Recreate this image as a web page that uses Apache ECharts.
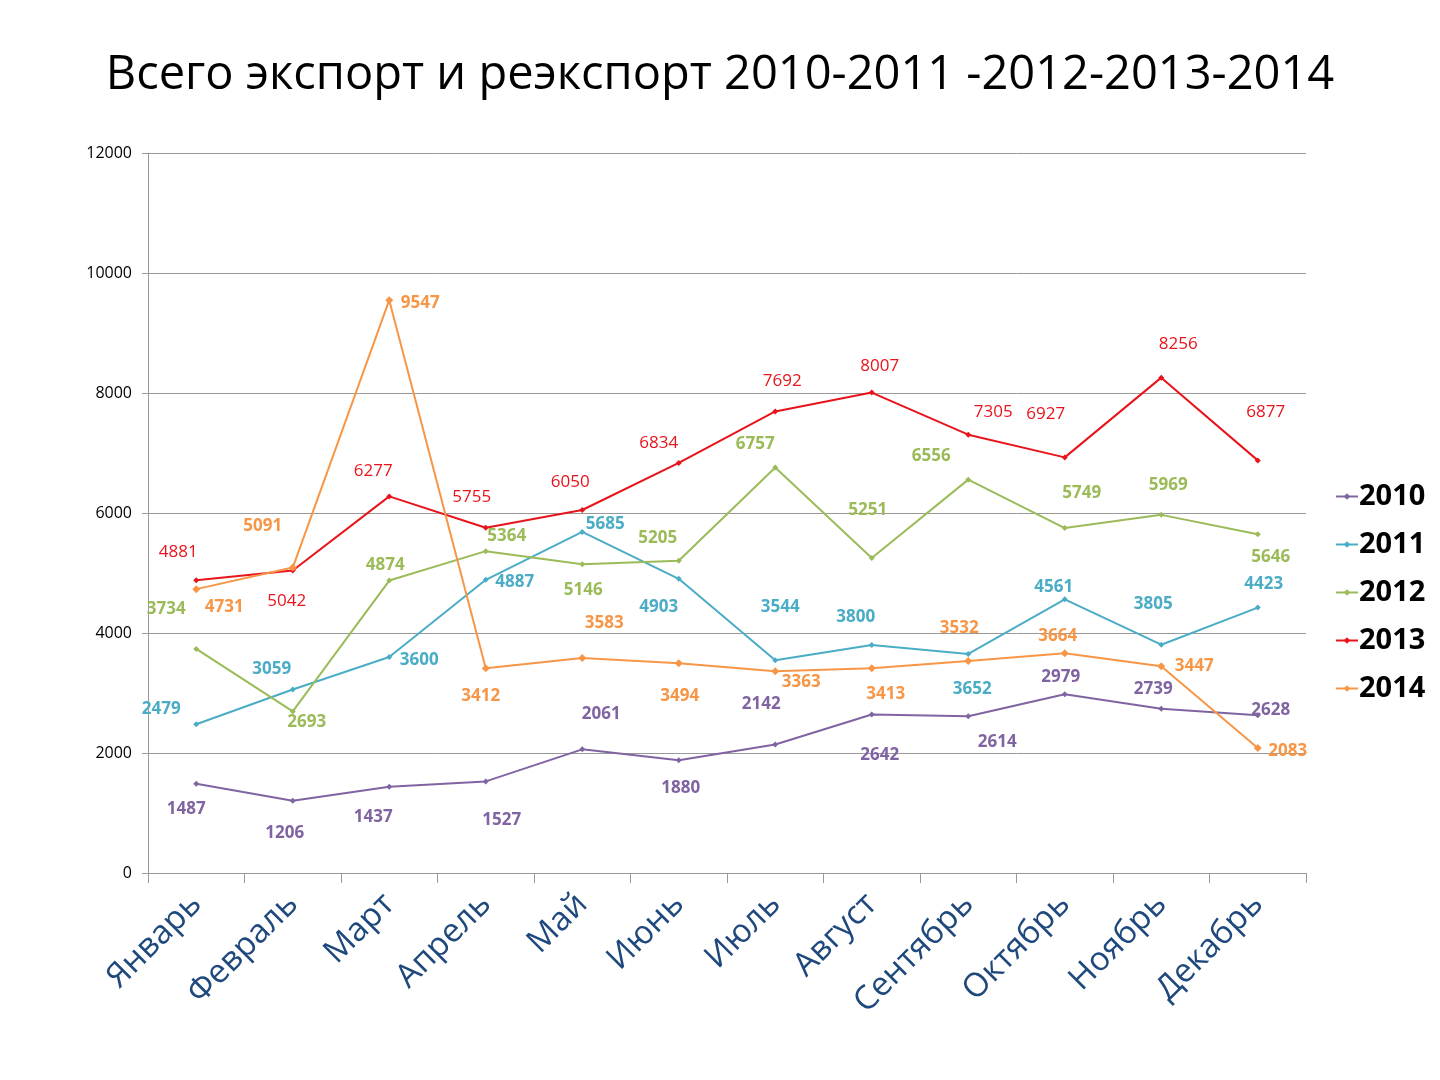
<!DOCTYPE html>
<html>
<head>
<meta charset="utf-8">
<style>
  html, body { margin: 0; padding: 0; background: #fff; }
  #chart { width: 1440px; height: 1080px; }
</style>
<script src="https://cdn.jsdelivr.net/npm/echarts@6/dist/echarts.min.js"></script>
</head>
<body>
<div id="chart"></div>
<script>
// months
const months = ['Январь', 'Февраль', 'Март', 'Апрель', 'Май', 'Июнь',
  'Июль', 'Август', 'Сентябрь', 'Октябрь', 'Ноябрь', 'Декабрь'];

// values per year
const y2010 = [1487, 1206, 1437, 1527, 2061, 1880, 2142, 2642, 2614, 2979, 2739, 2628];
const y2011 = [2479, 3059, 3600, 4887, 5685, 4903, 3544, 3800, 3652, 4561, 3805, 4423];
const y2012 = [3734, 2693, 4874, 5364, 5146, 5205, 6757, 5251, 6556, 5749, 5969, 5646];
const y2013 = [4881, 5042, 6277, 5755, 6050, 6834, 7692, 8007, 7305, 6927, 8256, 6877];
const y2014 = [4731, 5091, 9547, 3412, 3583, 3494, 3363, 3413, 3532, 3664, 3447, 2083];

// where each value label sits relative to its point (px)
const off2010 = [[-10, 25], [-8, 33], [-16, 30], [16, 39], [19, -35], [2, 28],
  [-14, -40], [8, 41], [29, 26], [-4, -17], [-8, -20], [13, -5]];
const off2011 = [[-35, -15], [-21, -20], [30, 3], [29, 2], [23, -8], [-20, 28],
  [5, -53], [-16, -28], [4, 35], [-11, -12], [-8, -41], [6, -23]];
const off2012 = [[-30, -40], [14, 11], [-4, -15], [21, -15], [1, 26], [-21, -23],
  [-20, -23], [-4, -48], [-37, -23], [17, -35], [7, -30], [13, 23]];
const off2013 = [[-18, -28], [-6, 31], [-16, -25], [-14, -31], [-12, -28], [-20, -20],
  [7, -30], [8, -26], [25, -23], [-19, -43], [17, -33], [8, -48]];
const off2014 = [[28, 18], [-30, -41], [31, 3], [-5, 28], [22, -35], [1, 33],
  [26, 11], [14, 26], [-9, -33], [-7, -17], [33, 0], [30, 3]];

const seriesDefs = [
  { name: '2010', values: y2010, offsets: off2010, color: '#8064A2', bold: true, symbolSize: 6 },
  { name: '2011', values: y2011, offsets: off2011, color: '#4BACC6', bold: true, symbolSize: 6 },
  { name: '2012', values: y2012, offsets: off2012, color: '#9BBB59', bold: true, symbolSize: 6 },
  { name: '2013', values: y2013, offsets: off2013, color: '#E8141B', bold: false, symbolSize: 6 },
  { name: '2014', values: y2014, offsets: off2014, color: '#F79646', bold: true, symbolSize: 8 }
];

const fontFam = '"Open Sans", "Noto Sans", sans-serif';

var myChart = echarts.init(document.getElementById('chart'));

var option = {
  animation: false,
  backgroundColor: '#fff',
  title: {
    text: 'Всего экспорт и реэкспорт 2010-2011 -2012-2013-2014',
    left: 'center',
    top: 47,
    textStyle: {
      fontFamily: fontFam,
      fontSize: 47,
      fontWeight: 'normal',
      color: '#000'
    }
  },
  legend: {
    orient: 'vertical',
    left: 1330,
    top: 477,
    itemWidth: 22,
    itemHeight: 8,
    itemGap: 19,
    data: seriesDefs.map((s) => s.name),
    textStyle: {
      fontFamily: fontFam,
      fontSize: 29,
      fontWeight: 'bold',
      color: '#000',
      padding: [0, 0, 0, -4]
    }
  },
  grid: {
    left: 148,
    right: 134,
    top: 153,
    bottom: 207
  },
  xAxis: {
    type: 'category',
    data: months,
    boundaryGap: true,
    axisLine: { lineStyle: { color: '#999', width: 1 } },
    axisTick: { show: true, length: 10, lineStyle: { color: '#999' } },
    axisLabel: {
      rotate: 45,
      margin: 26,
      fontFamily: fontFam,
      fontSize: 33,
      color: '#1F497D'
    }
  },
  yAxis: {
    type: 'value',
    min: 0,
    max: 12000,
    interval: 2000,
    axisLine: { show: true, lineStyle: { color: '#999', width: 1 } },
    axisTick: { show: true, length: 6, lineStyle: { color: '#999' } },
    axisLabel: {
      margin: 16,
      fontFamily: fontFam,
      fontSize: 16,
      color: '#000',
      formatter: (v) => String(v)
    },
    splitLine: { lineStyle: { color: '#999', width: 1 } }
  },
  series: []
};

for (const s of seriesDefs) {
  option.series.push({
    name: s.name,
    type: 'line',
    symbol: 'diamond',
    symbolSize: s.symbolSize,
    color: s.color,
    lineStyle: { width: 2, color: s.color },
    itemStyle: { color: s.color },
    label: {
      show: true,
      position: 'inside',
      fontFamily: fontFam,
      fontSize: 17,
      fontWeight: s.bold ? 'bold' : 'normal',
      color: s.color
    },
    // move each label to where it sits in the original
    labelLayout: (params) => {
      const o = s.offsets[params.dataIndex];
      return { dx: o[0], dy: o[1], hideOverlap: false };
    },
    data: s.values
  });
}

myChart.setOption(option);
</script>
</body>
</html>
